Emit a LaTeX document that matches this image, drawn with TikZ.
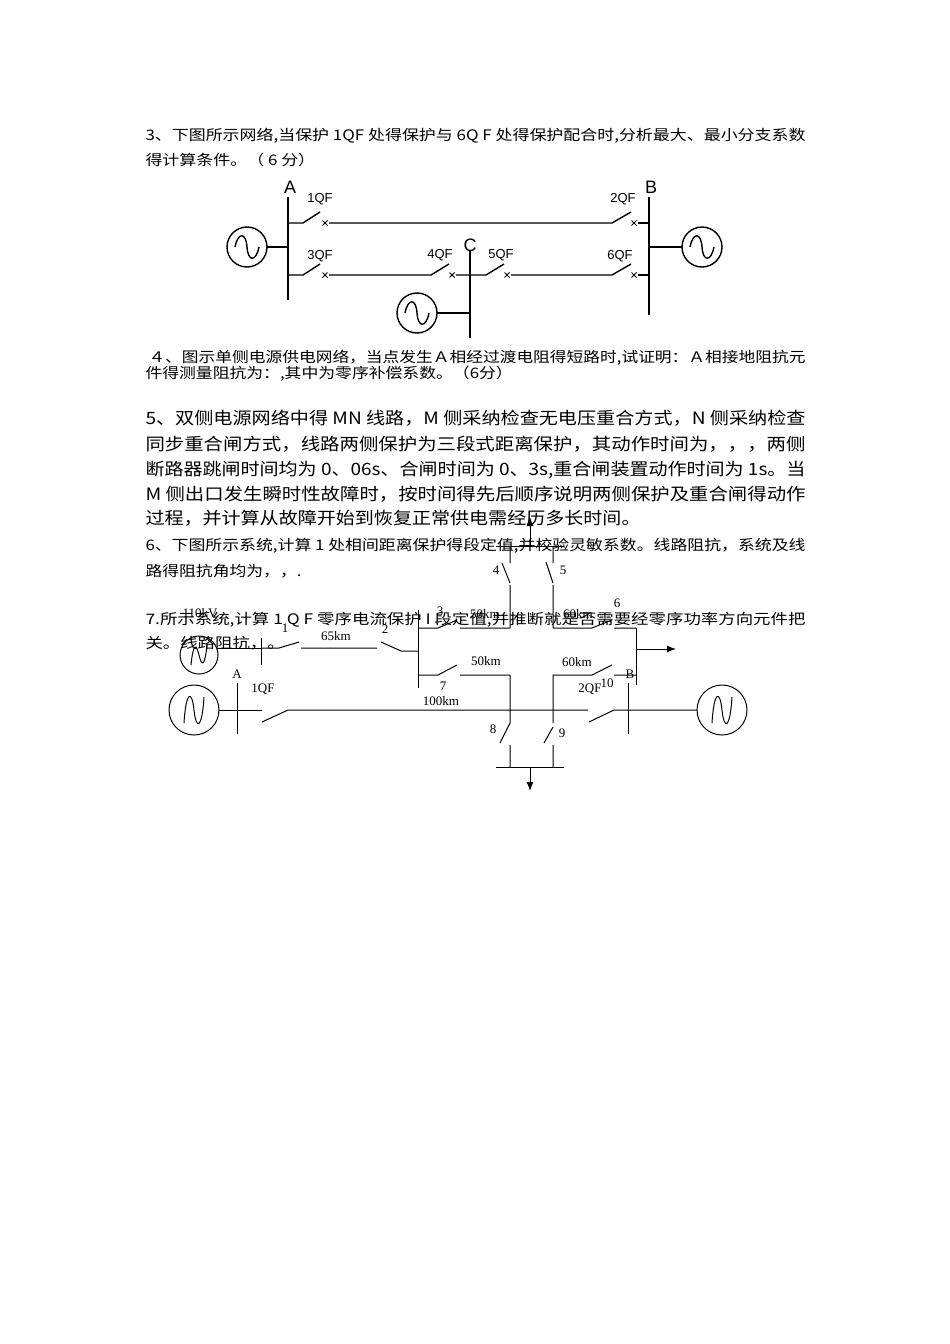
\documentclass[tikz,border=0pt]{standalone}
\usepackage{fontspec}
\usepackage{graphicx}
\usetikzlibrary{arrows.meta}
\newfontfamily\cjk{Noto Sans CJK SC}
\newfontfamily\arialf{Liberation Sans}
\newfontfamily\tmsf{Liberation Serif}
\newcommand\fullw[2]{\resizebox{#1pt}{\height}{#2}}
\newcommand\sxx[2]{\scalebox{#1}[1]{#2}}
\begin{document}
\begin{tikzpicture}[x=1pt,y=-1pt,line width=1pt,
  txt/.style={anchor=base west,inner sep=0pt,font=\cjk\fontsize{14.5}{15}\selectfont},
  big/.style={anchor=base west,inner sep=0pt,font=\cjk\fontsize{17}{18}\selectfont},
  lbA/.style={inner sep=0pt,font=\arialf\fontsize{13}{14}\selectfont},
  lbT/.style={inner sep=0pt,font=\tmsf\fontsize{13}{14}\selectfont},
  busline/.style={line width=2.2pt},
  wire/.style={line width=1.4pt},
  thin/.style={line width=1pt}]
\useasboundingbox (0,0) rectangle (950,1344);
\fill[white] (0,0) rectangle (950,1344);
% ---------- texts
\node[txt] (t3a) at (145,140) {\fullw{660}{3、下图所示网络,当保护 1QF 处得保护与 6Q F 处得保护配合时,分析最大、最小分支系数}};
\node[txt] (t3b) at (145,165) {\sxx{1.17}{得计算条件。（ 6 分）}};
\node[txt] (t4a) at (148,362) {\fullw{657}{４、图示单侧电源供电网络，当点发生Ａ相经过渡电阻得短路时,试证明：Ａ相接地阻抗元}};
\node[txt] (t4b) at (145,378) {\sxx{1.16}{件得测量阻抗为：,其中为零序补偿系数。（6分）}};
\node[big] (t5a) at (145,424) {\fullw{660}{5、双侧电源网络中得 MN 线路，M 侧采纳检查无电压重合方式，N 侧采纳检查}};
\node[big] (t5b) at (145,450) {\fullw{660}{同步重合闸方式，线路两侧保护为三段式距离保护，其动作时间为，，，两侧}};
\node[big] (t5c) at (145,475) {\fullw{660}{断路器跳闸时间均为 0、06s、合闸时间为 0、3s,重合闸装置动作时间为 1s。当}};
\node[big] (t5d) at (145,500) {\fullw{660}{M 侧出口发生瞬时性故障时，按时间得先后顺序说明两侧保护及重合闸得动作}};
\node[big] (t5e) at (145,524) {\sxx{1.12}{过程，并计算从故障开始到恢复正常供电需经历多长时间。}};
\node[txt] (t6a) at (145,550) {\fullw{660}{6、下图所示系统,计算 1 处相间距离保护得段定值,并校验灵敏系数。线路阻抗，系统及线}};
\node[txt] (t6b) at (145,576) {\sxx{1.16}{路得阻抗角均为，，.}};
\node[txt] (t7a) at (145,624) {\fullw{660}{7.所示系统,计算 1 Q F 零序电流保护 I 段定值,并推断就是否需要经零序功率方向元件把}};
\node[txt] (t7b) at (145,648) {\sxx{1.2}{关。线路阻抗，。}};
% ---------- diagram 3
\draw[busline] (288,197) -- (288,300);
\draw[busline] (649,197) -- (649,315);
\draw[busline] (470,251) -- (470,338);
\node[lbA,font=\arialf\fontsize{18}{18}\selectfont] (lA) at (290,187) {A};
\node[lbA,font=\arialf\fontsize{18}{18}\selectfont] (lB) at (651,187) {B};
\node[lbA,font=\arialf\fontsize{18}{18}\selectfont] (lC) at (470,245) {C};
\node[lbA] (q1) at (320,199) {1QF};
\node[lbA] (q2) at (623,199) {2QF};
\node[lbA] (q3) at (320,256) {3QF};
\node[lbA] (q4) at (440,255) {4QF};
\node[lbA] (q5) at (501,255) {5QF};
\node[lbA] (q6) at (620,256) {6QF};
\newcommand\xm[2]{\draw[thin] (#1-2.5,#2-2.5) -- (#1+2.5,#2+2.5) (#1-2.5,#2+2.5) -- (#1+2.5,#2-2.5);}
% row 1
\draw[wire] (288,223) -- (303,223) -- (320,212);
\xm{325}{223}
\draw[wire] (329,223) -- (612,223) -- (631,212);
\xm{634}{223}
\draw[wire] (638,223) -- (649,223);
% row 2
\draw[wire] (288,275) -- (303,275) -- (320,264);
\xm{325}{275}
\draw[wire] (329,275) -- (431,275) -- (449,264);
\xm{452}{275}
\draw[wire] (456,275) -- (486,275) -- (504,264);
\xm{507}{275}
\draw[wire] (511,275) -- (612,275) -- (631,264);
\xm{634}{275}
\draw[wire] (638,275) -- (649,275);
% generators
\newcommand\genT[3]{\draw[wire] (#1,#2) circle (#3);
 \draw[wire] (#1-0.6*#3,#2) .. controls (#1-0.45*#3,#2-0.75*#3) and (#1-0.05*#3,#2-0.75*#3) .. (#1,#2) .. controls (#1+0.05*#3,#2+0.75*#3) and (#1+0.45*#3,#2+0.75*#3) .. (#1+0.6*#3,#2);}
\genT{247}{247}{20}
\draw[wire] (267,247) -- (288,247);
\genT{702}{247}{20}
\draw[wire] (649,247) -- (682,247);
\genT{417}{313}{20}
\draw[wire] (437,313) -- (470,313);
% ---------- diagram 6/7
\draw[thin] (496,546) -- (564,546);
\draw[thin,-{Latex[length=9pt,width=7pt]}] (530,546) -- (530,517);
\draw[thin] (510,546) -- (510,563) (502,563) -- (510,583) (510,585) -- (510,628);
\draw[thin] (553,546) -- (553,563) (546,562) -- (553,583) (553,585) -- (553,628);
\node[lbT] (n4) at (496,570) {4};
\node[lbT] (n5) at (563,570) {5};
\draw[thin] (418,610) -- (418,688);
\draw[thin] (418,628) -- (438,628) -- (457,620) (460,628) -- (510,628);
\draw[thin] (553,628) -- (592,628) -- (612,620) (614,628) -- (636,628);
\draw[thin] (636,628) -- (636,685);
\draw[thin,-{Latex[length=9pt,width=7pt]}] (637,649) -- (676,649);
\draw[thin] (418,675) -- (438,675) -- (457,665) (460,675) -- (510,675);
\draw[thin] (553,723) -- (553,675) -- (592,675) -- (612,665) (614,675) -- (636,675);
\draw[thin] (510,675) -- (510,723) (510,723) -- (500,743) (510,745) -- (510,767);
\draw[thin] (553,727) -- (544,743) (553,745) -- (553,767);
\draw[thin] (496,767) -- (564,767);
\draw[thin,-{Latex[length=9pt,width=7pt]}] (530,767) -- (530,791);
\node[lbT] (n3) at (440,611) {3};
\node[lbT] (k1) at (485,614) {50km};
\node[lbT] (k2) at (578,614) {60km};
\node[lbT] (n6) at (617,603) {6};
\node[lbT] (k3) at (486,661) {50km};
\node[lbT] (k4) at (577,662) {60km};
\node[lbT] (n7) at (443,686) {7};
\node[lbT] (n10) at (607,683) {10};
\node[lbT] (nB) at (630,674) {B};
\node[lbT] (n8) at (493,729) {8};
\node[lbT] (n9) at (562,733) {9};
\node[lbT] (kv) at (200,613) {110kV};
\draw[thin] (199,655) circle (19);
\draw[thin] (191,665) .. controls (193,645) and (196,642) .. (199,655) .. controls (202,668) and (205,665) .. (207,645);
\draw[thin] (218,648) -- (261,648);
\draw[thin] (261,638) -- (261,665);
\draw[thin] (261,648) -- (279,648) -- (299,642) (301,648) -- (377,648);
\draw[thin] (381,642) -- (401,651) -- (418,651);
\node[lbT] (n1) at (285,628) {1};
\node[lbT] (k5) at (336,636) {65km};
\node[lbT] (n2) at (385,629) {2};
\newcommand\genN[2]{\draw[thin] (#1,#2) circle (25);
 \draw[thin] (#1-10,#2+13) .. controls (#1-8,#2-20) and (#1-2,#2-20) .. (#1,#2) .. controls (#1+2,#2+20) and (#1+8,#2+20) .. (#1+10,#2-13);}
\genN{194}{710}
\genN{722}{710}
\draw[thin] (219,710) -- (262,710);
\draw[thin] (237,683) -- (237,734);
\draw[thin] (262,722) -- (288,710) -- (588,710);
\draw[thin] (589,722) -- (614,710) -- (697,710);
\draw[thin] (628,683) -- (628,734);
\node[lbT] (nA) at (237,674) {A};
\node[lbT] (q1b) at (263,689) {1QF};
\node[lbT] (k6) at (441,701) {100km};
\node[lbT] (q2b) at (590,689) {2QF};
\end{tikzpicture}
\end{document}
